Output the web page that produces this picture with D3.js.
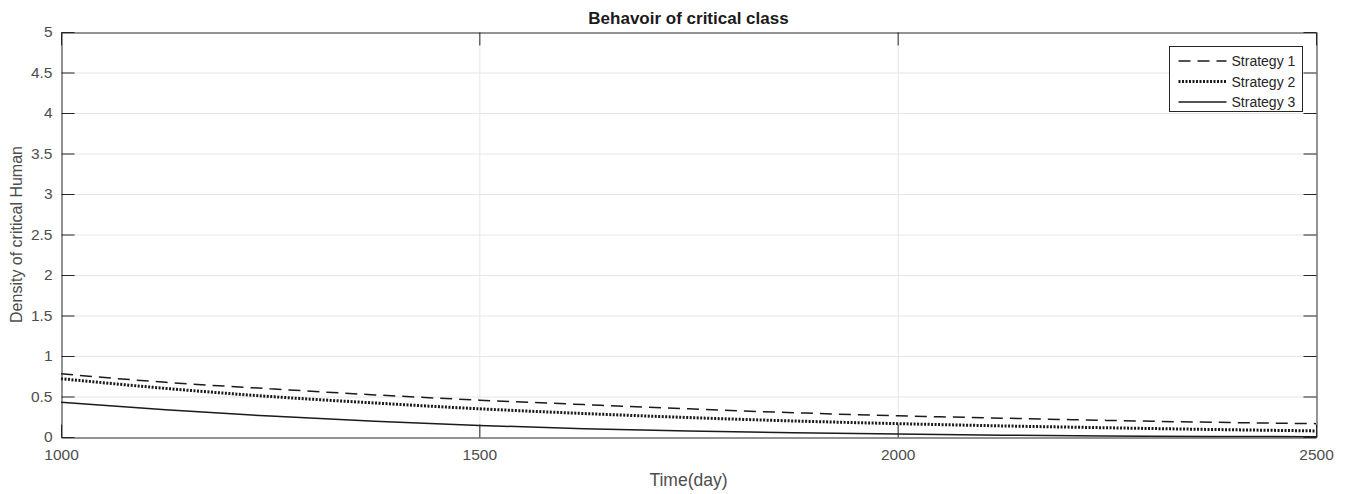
<!DOCTYPE html>
<html>
<head>
<meta charset="utf-8">
<script src="https://cdn.jsdelivr.net/npm/d3@7"></script>
<style>
  html, body { margin: 0; padding: 0; background: #fff; }
  svg { display: block; }
</style>
</head>
<body>
<svg id="chart" width="1349" height="494"></svg>
<script>
// Time samples (days) and density of the critical class for each strategy
const days = [1000, 1125, 1250, 1375, 1500, 1625, 1750, 1875, 2000, 2125, 2250, 2375, 2500];
const strategy1 = [0.78, 0.675, 0.595, 0.52, 0.455, 0.40, 0.348, 0.30, 0.262, 0.233, 0.205, 0.182, 0.165];
const strategy2 = [0.72, 0.60, 0.50, 0.42, 0.348, 0.29, 0.24, 0.198, 0.165, 0.137, 0.114, 0.093, 0.075];
const strategy3 = [0.43, 0.335, 0.258, 0.195, 0.142, 0.103, 0.073, 0.052, 0.036, 0.023, 0.013, 0.007, 0.004];

const xTicks = [1000, 1500, 2000, 2500];
const yTicks = [0, 0.5, 1, 1.5, 2, 2.5, 3, 3.5, 4, 4.5, 5];
const seriesNames = ["Strategy 1", "Strategy 2", "Strategy 3"];

(function draw() {
  const svg = d3.select("#chart");
  const mLeft = 61, mRight = 1316, mTop = 32, mBottom = 437;
  const axisColor = "#262626";
  const textColor = "#4d4d4d";
  const font = "'Liberation Sans', Helvetica, Arial, sans-serif";

  const x = d3.scaleLinear().domain([1000, 2500]).range([mLeft, mRight]);
  const y = d3.scaleLinear().domain([0, 5]).range([mBottom, mTop]);

  // Grid
  const grid = svg.append("g");
  grid.selectAll("line.gy").data(yTicks.slice(1, -1)).enter().append("line")
    .attr("x1", mLeft).attr("x2", mRight)
    .attr("y1", d => y(d) + 0.5).attr("y2", d => y(d) + 0.5)
    .attr("stroke", "#e6e6e6").attr("stroke-width", 1);
  grid.selectAll("line.gx").data(xTicks.slice(1, -1)).enter().append("line")
    .attr("y1", mTop).attr("y2", mBottom)
    .attr("x1", d => x(d) + 0.5).attr("x2", d => x(d) + 0.5)
    .attr("stroke", "#e6e6e6").attr("stroke-width", 1);

  // Series lines
  const line = d3.line().x((d, i) => x(days[i])).y(d => y(d)).curve(d3.curveMonotoneX);
  const styles = [
    { data: strategy1, width: 1.5, dash: "12,7" },
    { data: strategy2, width: 3, dash: "2,1.5" },
    { data: strategy3, width: 1.5, dash: null }
  ];
  const plot = svg.append("g");
  styles.forEach(s => {
    plot.append("path").datum(s.data)
      .attr("d", line)
      .attr("fill", "none")
      .attr("stroke", "#1a1a1a")
      .attr("stroke-width", s.width)
      .attr("stroke-dasharray", s.dash);
  });

  // Axes: box with inward ticks on all four sides
  const tickLen = 13;
  const axL = d3.axisLeft(y).tickValues(yTicks).tickSizeInner(-tickLen).tickSizeOuter(0).tickPadding(9)
    .tickFormat(d => d3.format("")(d));
  const axR = d3.axisRight(y).tickValues(yTicks).tickSizeInner(-tickLen).tickSizeOuter(0).tickFormat("");
  const axB = d3.axisBottom(x).tickValues(xTicks).tickSizeInner(-tickLen).tickSizeOuter(0).tickPadding(11)
    .tickFormat(d3.format("d"));
  const axT = d3.axisTop(x).tickValues(xTicks).tickSizeInner(-tickLen).tickSizeOuter(0).tickFormat("");

  function style(g) {
    g.attr("font-size", null).attr("font-family", null);
    g.select(".domain").attr("stroke", axisColor).attr("stroke-width", 1);
    g.selectAll(".tick line").attr("stroke", axisColor).attr("stroke-width", 1);
    g.selectAll(".tick text").attr("fill", textColor).style("font-family", font).style("font-size", "15.5px");
  }
  svg.append("g").attr("transform", `translate(${mLeft + 0.5},0)`).call(axL).call(style);
  svg.append("g").attr("transform", `translate(${mRight + 0.5},0)`).call(axR).call(style);
  svg.append("g").attr("transform", `translate(0,${mBottom + 0.5})`).call(axB).call(style);
  svg.append("g").attr("transform", `translate(0,${mTop + 0.5})`).call(axT).call(style);

  // Title and axis labels
  svg.append("text").attr("x", (mLeft + mRight) / 2).attr("y", 24)
    .attr("text-anchor", "middle").attr("fill", "#1a1a1a")
    .style("font-family", font).style("font-size", "17px").style("font-weight", "bold")
    .text("Behavoir of critical class");
  svg.append("text").attr("x", (mLeft + mRight) / 2).attr("y", 486)
    .attr("text-anchor", "middle").attr("fill", textColor)
    .style("font-family", font).style("font-size", "17.5px")
    .text("Time(day)");
  svg.append("text")
    .attr("transform", `translate(22,${(mTop + mBottom) / 2}) rotate(-90)`)
    .attr("text-anchor", "middle").attr("fill", textColor)
    .style("font-family", font).style("font-size", "16px")
    .text("Density of critical Human");

  // Legend
  const lg = svg.append("g").attr("transform", "translate(1169.5,46.5)");
  lg.append("rect").attr("width", 133).attr("height", 65)
    .attr("fill", "#fff").attr("stroke", axisColor).attr("stroke-width", 1);
  styles.forEach((s, i) => {
    const yy = 14.5 + i * 20.5;
    lg.append("line").attr("x1", 9).attr("x2", 57).attr("y1", yy).attr("y2", yy)
      .attr("stroke", "#1a1a1a").attr("stroke-width", s.width)
      .attr("stroke-dasharray", s.dash);
    lg.append("text").attr("x", 62).attr("y", yy + 5)
      .attr("fill", "#262626").style("font-family", font).style("font-size", "14px")
      .text(seriesNames[i]);
  });
})();
</script>
</body>
</html>
